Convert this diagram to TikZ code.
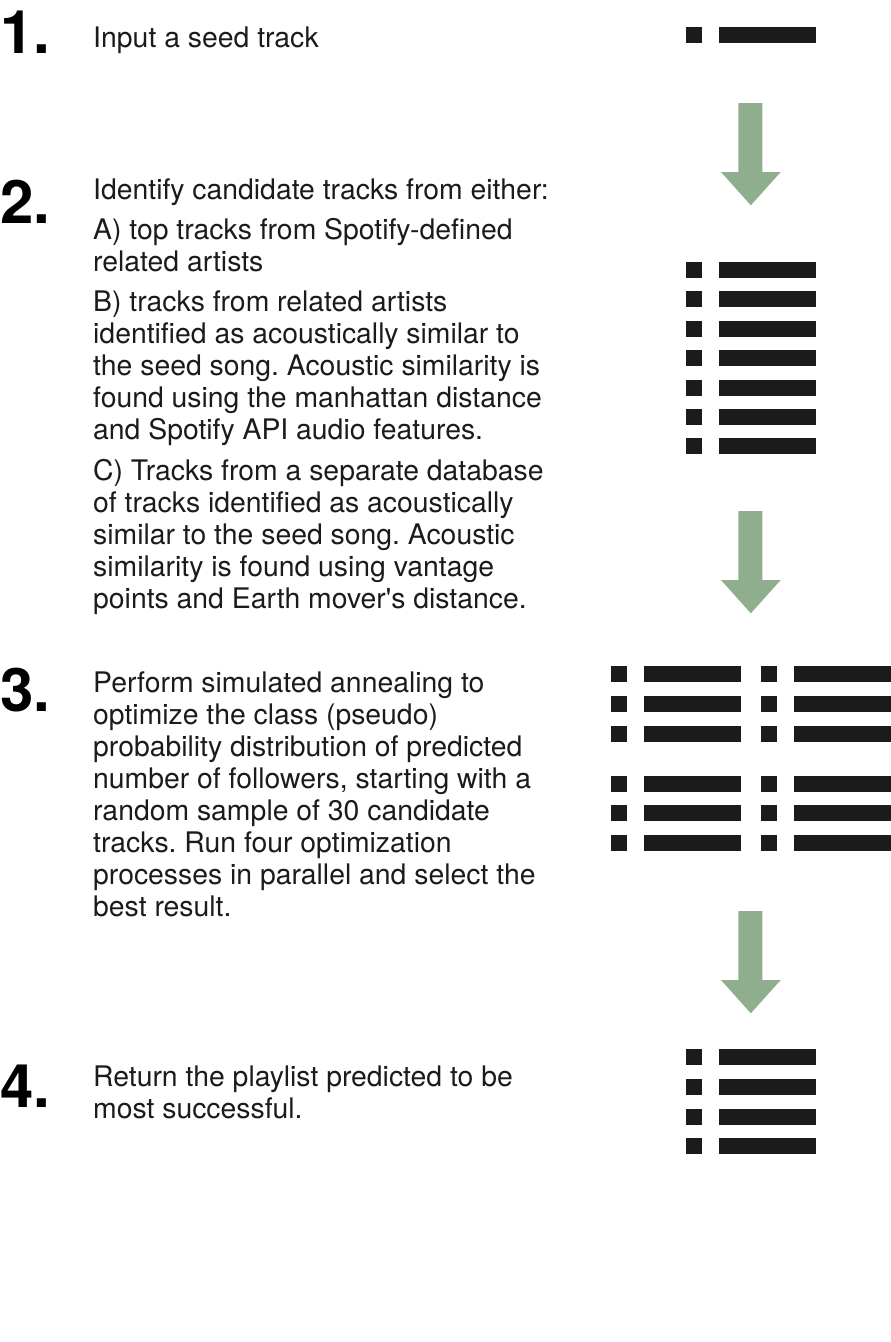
\documentclass[tikz,border=0pt]{standalone}
\usepackage{fontspec}
\setmainfont{TeX Gyre Heros}
\frenchspacing
\definecolor{ink}{RGB}{27,27,27}
\definecolor{arrowgreen}{RGB}{143,174,142}
\newcommand\trackrow[2]{%
  \fill[ink] (#1,#2) rectangle ++(16,16);
  \fill[ink] ({#1+33},#2) rectangle ++(97,16);}
\newcommand\greenarrowat[1]{%
  \fill[arrowgreen] (738.3,#1) -- (762.3,#1) -- (762.3,{#1+69}) -- (780.7,{#1+69})
    -- (750.8,{#1+102.3}) -- (721,{#1+69}) -- (738.3,{#1+69}) -- cycle;}
\begin{document}
\begin{tikzpicture}[x=1pt,y=-1pt,
  num/.style={anchor=base west,inner sep=0pt,font=\fontsize{60}{60}\selectfont\bfseries,text=black},
  txt/.style={anchor=base west,inner sep=0pt,font=\fontsize{28.35}{32}\selectfont\frenchspacing,text=ink}]
\useasboundingbox (0,0) rectangle (891,1342);
\fill[white] (0,0) rectangle (891,1342);

% step numbers
\node[num] (n1) at (0,53) {1.};
\node[num] (n2) at (0,223) {2.};
\node[num] (n3) at (0,711) {3.};
\node[num] (n4) at (0,1107) {4.};

% step 1
\node[txt] (s1) at (93,47) {Input a seed track};

% step 2
\node[txt] (s2a) at (93,199) {Identify candidate tracks from either:};
\node[txt] (s2b) at (93,239.5) {A) top tracks from Spotify-defined};
\node[txt] (s2c) at (93,271.5) {related artists};
\node[txt] (s2d) at (93,311.5) {B) tracks from related artists};
\node[txt] (s2e) at (93,343.5) {identified as acoustically similar to};
\node[txt] (s2f) at (93,375.5) {the seed song. Acoustic similarity is};
\node[txt] (s2g) at (93,407.5) {found using the manhattan distance};
\node[txt] (s2h) at (93,439.5) {and Spotify API audio features.};
\node[txt] (s2i) at (93,480.5) {C) Tracks from a separate database};
\node[txt] (s2j) at (93,512.5) {of tracks identified as acoustically};
\node[txt] (s2k) at (93,544.5) {similar to the seed song. Acoustic};
\node[txt] (s2l) at (93,576.5) {similarity is found using vantage};
\node[txt] (s2m) at (93,608.5) {points and Earth mover\textquotesingle s distance.};

% step 3
\node[txt] (s3a) at (93,692) {Perform simulated annealing to};
\node[txt] (s3b) at (93,724) {optimize the class (pseudo)};
\node[txt] (s3c) at (93,756) {probability distribution of predicted};
\node[txt] (s3d) at (93,788) {number of followers, starting with a};
\node[txt] (s3e) at (93,820) {random sample of 30 candidate};
\node[txt] (s3f) at (93,852) {tracks. Run four optimization};
\node[txt] (s3g) at (93,884) {processes in parallel and select the};
\node[txt] (s3h) at (93,916) {best result.};

% step 4
\node[txt] (s4a) at (93,1086) {Return the playlist predicted to be};
\node[txt] (s4b) at (93,1118) {most successful.};

% icon 1: seed track
\trackrow{686}{27}

% arrows
\greenarrowat{103}
\greenarrowat{511}
\greenarrowat{911}

% icon 2: candidate tracks
\foreach \i in {0,...,6} {\trackrow{686}{262+29.4*\i}}

% icon 3: four parallel optimisations
\foreach \i in {0,1,2} {
  \trackrow{611}{666+29.9*\i}
  \trackrow{761}{666+29.9*\i}
  \trackrow{611}{775.7+29.7*\i}
  \trackrow{761}{775.7+29.7*\i}
}

% icon 4: resulting playlist
\foreach \i in {0,...,3} {\trackrow{686}{1049.3+29.7*\i}}
\end{tikzpicture}
\end{document}
